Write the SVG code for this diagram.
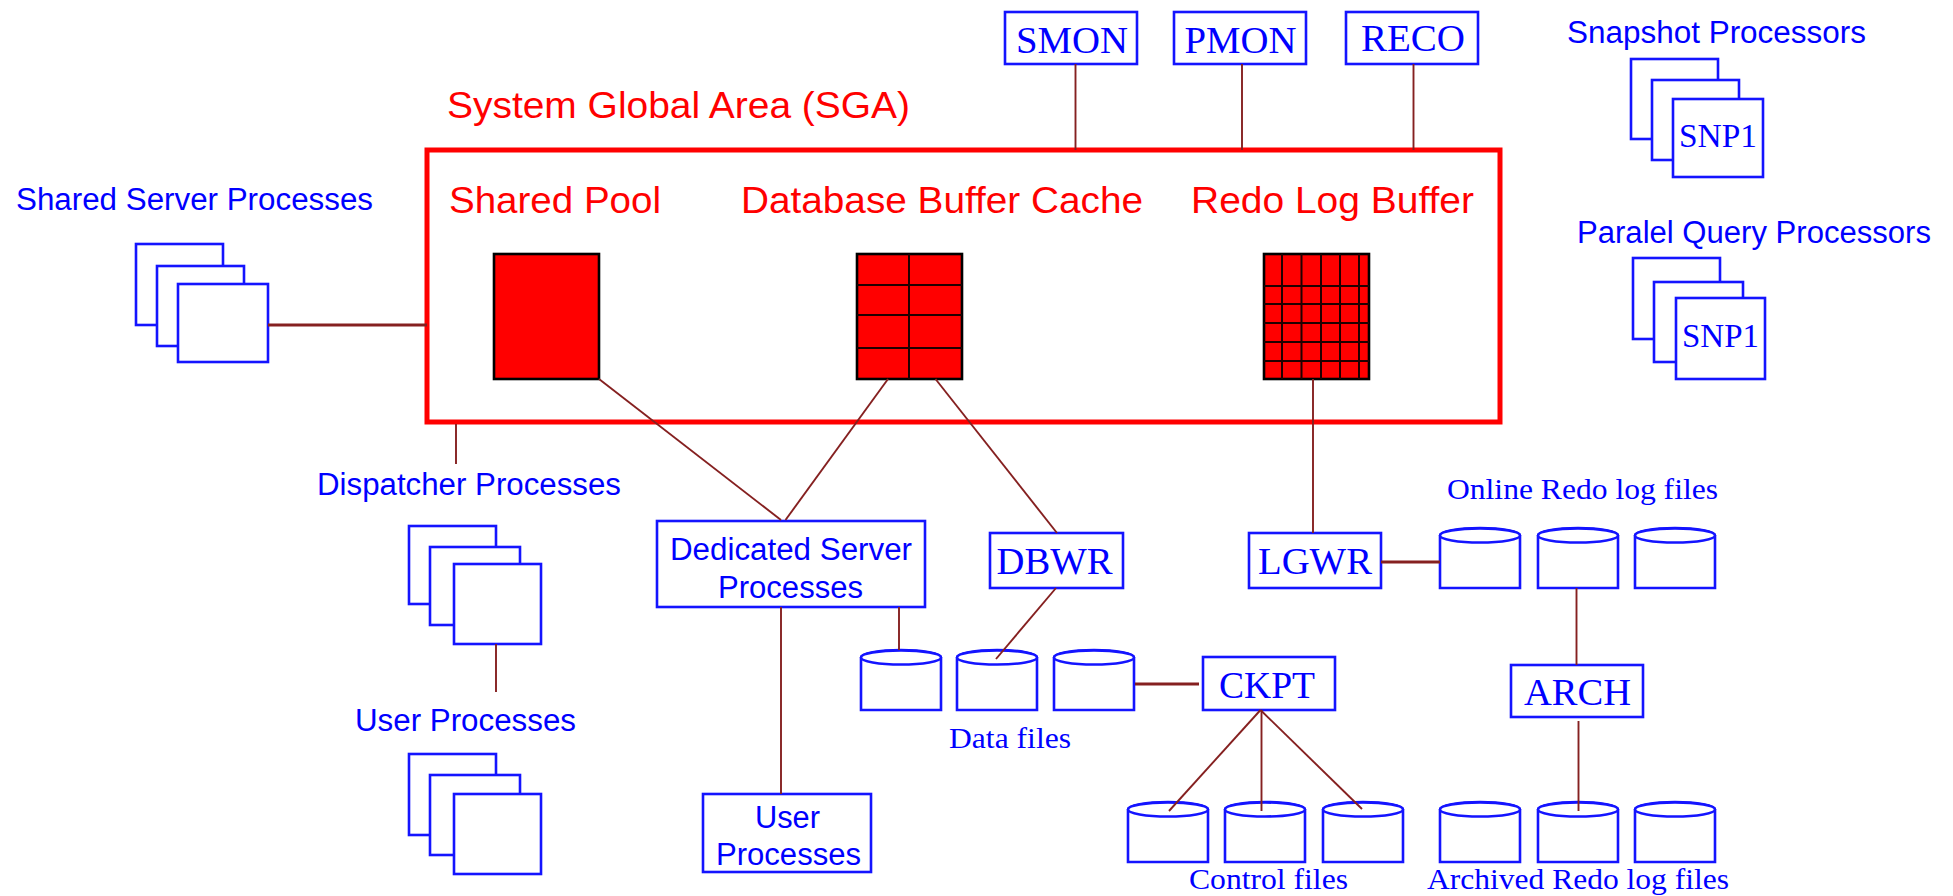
<svg xmlns="http://www.w3.org/2000/svg" width="1953" height="896" viewBox="0 0 1953 896">
<style>
text{font-family:"Liberation Sans",Arial,sans-serif;fill:#0000ff;font-size:31px}
.red{fill:#ff0000;font-size:37px}
.serif{font-family:"Liberation Serif","Times New Roman",serif}
.big{font-size:38px}
.snp{font-size:34px}
.small{font-size:29px}
.box{fill:#fff;stroke:#1414ff;stroke-width:2.6}
.cyl{fill:#fff;stroke:#1414ff;stroke-width:2.6}
.mem{fill:#ff0000;stroke:#000;stroke-width:2.6}
.grid{stroke:#200000;stroke-width:2;fill:none}
.sga{fill:#fff;stroke:#ff0000;stroke-width:5}
#connectors line{stroke:#852020;stroke-width:1.9}
#connectors line.thick{stroke-width:2.8}
</style>
<defs>
<g id="cylinder">
<path class="cyl" d="M0 7.500V60H80V7.500A40 7.500 0 0 0 0 7.500Z"/>
<ellipse class="cyl" cx="40" cy="7.500" rx="40" ry="7"/>
</g>
</defs>
<rect width="1953" height="896" fill="#fff"/>

<g id="sga">
<rect class="sga" x="427" y="150" width="1073" height="272"/>
<text class="red" x="447" y="118" textLength="463" lengthAdjust="spacingAndGlyphs">System Global Area (SGA)</text>
</g>
<g id="shared-pool">
<text class="red" x="449" y="213" textLength="212" lengthAdjust="spacingAndGlyphs">Shared Pool</text>
<rect class="mem" x="494" y="254" width="105" height="125"/>
</g>
<g id="database-buffer-cache">
<text class="red" x="741" y="213" textLength="402" lengthAdjust="spacingAndGlyphs">Database Buffer Cache</text>
<rect class="mem" x="857" y="254" width="105" height="125"/>
<path class="grid" d="M909 254V379M857 285H962M857 315H962M857 348H962"/>
</g>
<g id="redo-log-buffer">
<text class="red" x="1191" y="213" textLength="283" lengthAdjust="spacingAndGlyphs">Redo Log Buffer</text>
<rect class="mem" x="1264" y="254" width="105" height="125"/>
<path class="grid" d="M1282 254V379M1301.500 254V379M1321 254V379M1340 254V379M1359 254V379M1264 286H1369M1264 304H1369M1264 323H1369M1264 342H1369M1264 361H1369"/>
</g>

<g id="shared-server-processes">
<text x="16" y="210" textLength="357" lengthAdjust="spacingAndGlyphs">Shared Server Processes</text>
<rect class="box" x="136" y="244" width="87" height="81"/>
<rect class="box" x="157" y="266" width="87" height="80"/>
<rect class="box" x="178" y="284" width="90" height="78"/>
</g>
<g id="smon">
<rect class="box" x="1005" y="12" width="132" height="52"/>
<text class="serif big" x="1016" y="53" textLength="112" lengthAdjust="spacingAndGlyphs">SMON</text>
</g>
<g id="pmon">
<rect class="box" x="1174" y="12" width="132" height="52"/>
<text class="serif big" x="1184.500" y="53" textLength="112" lengthAdjust="spacingAndGlyphs">PMON</text>
</g>
<g id="reco">
<rect class="box" x="1346" y="12" width="132" height="52"/>
<text class="serif big" x="1361" y="51" textLength="104" lengthAdjust="spacingAndGlyphs">RECO</text>
</g>
<g id="snapshot-processors">
<text x="1567" y="43" textLength="299" lengthAdjust="spacingAndGlyphs">Snapshot Processors</text>
<rect class="box" x="1631" y="59" width="87" height="80"/>
<rect class="box" x="1652" y="80" width="87" height="80"/>
<rect class="box" x="1673" y="99" width="90" height="78"/>
<text class="serif snp" x="1679" y="147" textLength="78" lengthAdjust="spacingAndGlyphs">SNP1</text>
</g>
<g id="parallel-query-processors">
<text x="1577" y="243" textLength="354" lengthAdjust="spacingAndGlyphs">Paralel Query Processors</text>
<rect class="box" x="1633" y="258" width="87" height="81"/>
<rect class="box" x="1654" y="282" width="89" height="80"/>
<rect class="box" x="1676" y="298" width="89" height="81"/>
<text class="serif snp" x="1682" y="347" textLength="77" lengthAdjust="spacingAndGlyphs">SNP1</text>
</g>
<g id="dispatcher-processes">
<text x="317" y="495" textLength="304" lengthAdjust="spacingAndGlyphs">Dispatcher Processes</text>
<rect class="box" x="409" y="526" width="87" height="78"/>
<rect class="box" x="430" y="547" width="90" height="78"/>
<rect class="box" x="454" y="564" width="87" height="80"/>
</g>
<g id="user-processes-stack">
<text x="355" y="731" textLength="221" lengthAdjust="spacingAndGlyphs">User Processes</text>
<rect class="box" x="409" y="754" width="87" height="81"/>
<rect class="box" x="430" y="775" width="90" height="80"/>
<rect class="box" x="454" y="794" width="87" height="80"/>
</g>
<g id="dedicated-server-processes">
<rect class="box" x="657" y="521" width="268" height="86"/>
<text x="670" y="560" textLength="242" lengthAdjust="spacingAndGlyphs">Dedicated Server</text>
<text x="718" y="598" textLength="145" lengthAdjust="spacingAndGlyphs">Processes</text>
</g>
<g id="user-processes">
<rect class="box" x="703" y="794" width="168" height="78"/>
<text x="755" y="828" textLength="65" lengthAdjust="spacingAndGlyphs">User</text>
<text x="716" y="865" textLength="145" lengthAdjust="spacingAndGlyphs">Processes</text>
</g>
<g id="dbwr">
<rect class="box" x="990" y="533" width="133" height="55"/>
<text class="serif big" x="996.500" y="574" textLength="116" lengthAdjust="spacingAndGlyphs">DBWR</text>
</g>
<g id="lgwr">
<rect class="box" x="1249" y="533" width="132" height="55"/>
<text class="serif big" x="1258" y="574" textLength="114" lengthAdjust="spacingAndGlyphs">LGWR</text>
</g>
<g id="ckpt">
<rect class="box" x="1203" y="657" width="132" height="53"/>
<text class="serif big" x="1219" y="698" textLength="96" lengthAdjust="spacingAndGlyphs">CKPT</text>
</g>
<g id="arch">
<rect class="box" x="1511" y="665" width="132" height="52"/>
<text class="serif big" x="1524" y="705" textLength="107" lengthAdjust="spacingAndGlyphs">ARCH</text>
</g>
<g id="data-files">
<use href="#cylinder" x="861" y="650"/>
<use href="#cylinder" x="957" y="650"/>
<use href="#cylinder" x="1054" y="650"/>
<text class="serif small" x="949" y="748" textLength="122" lengthAdjust="spacingAndGlyphs">Data files</text>
</g>
<g id="online-redo-log-files">
<text class="serif small" x="1447" y="499" textLength="271" lengthAdjust="spacingAndGlyphs">Online Redo log files</text>
<use href="#cylinder" x="1440" y="528"/>
<use href="#cylinder" x="1538" y="528"/>
<use href="#cylinder" x="1635" y="528"/>
</g>
<g id="control-files">
<use href="#cylinder" x="1128" y="802"/>
<use href="#cylinder" x="1225" y="802"/>
<use href="#cylinder" x="1323" y="802"/>
<text class="serif small" x="1189" y="889" textLength="159" lengthAdjust="spacingAndGlyphs">Control files</text>
</g>
<g id="archived-redo-log-files">
<use href="#cylinder" x="1440" y="802"/>
<use href="#cylinder" x="1538" y="802"/>
<use href="#cylinder" x="1635" y="802"/>
<text class="serif small" x="1427" y="889" textLength="302" lengthAdjust="spacingAndGlyphs">Archived Redo log files</text>
</g>

<g id="connectors">
<line x1="1075.500" y1="64" x2="1075.500" y2="150"/>
<line x1="1242" y1="64" x2="1242" y2="150"/>
<line x1="1413.500" y1="64" x2="1413.500" y2="150"/>
<line class="thick" x1="268" y1="325" x2="427" y2="325"/>
<line x1="456" y1="424" x2="456" y2="464"/>
<line x1="599" y1="379" x2="781" y2="520"/>
<line x1="888" y1="379" x2="785.500" y2="520"/>
<line x1="935.500" y1="379" x2="1057" y2="533"/>
<line x1="1313" y1="379" x2="1313" y2="533"/>
<line x1="496" y1="644" x2="496" y2="692"/>
<line x1="781" y1="607" x2="781" y2="794"/>
<line x1="899" y1="607" x2="899" y2="650"/>
<line x1="1056" y1="588" x2="996" y2="659"/>
<line class="thick" x1="1135" y1="684" x2="1199" y2="684"/>
<line class="thick" x1="1381" y1="562" x2="1440" y2="562"/>
<line x1="1260.500" y1="710" x2="1169" y2="811"/>
<line x1="1261.500" y1="710" x2="1261.500" y2="811"/>
<line x1="1260.500" y1="710" x2="1362" y2="809"/>
<line x1="1576.500" y1="588" x2="1576.500" y2="665"/>
<line x1="1578.500" y1="721" x2="1578.500" y2="811"/>
</g>
</svg>
